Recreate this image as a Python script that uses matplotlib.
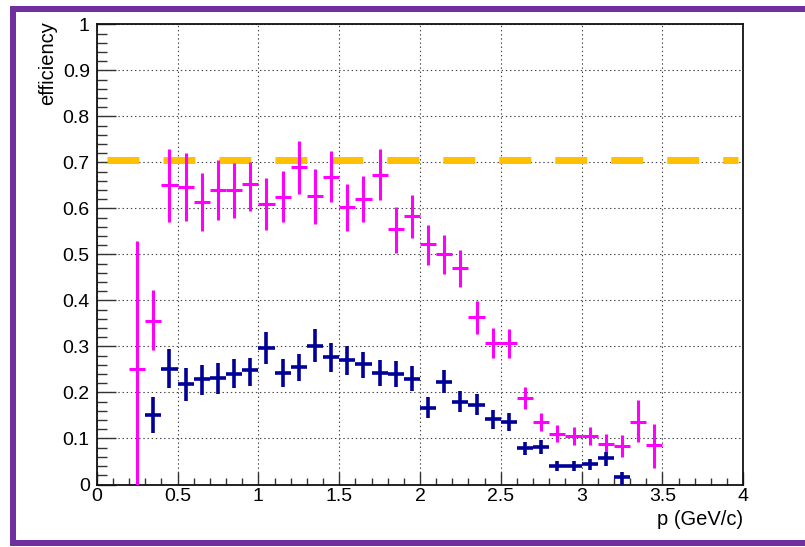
import matplotlib
matplotlib.use("Agg")
import matplotlib.pyplot as plt
import numpy as np
from matplotlib.patches import Rectangle
from matplotlib.ticker import MultipleLocator

# %% Data
# magenta series (bin centres, efficiency, lower / upper error)
p_mag = [0.25, 0.35, 0.45, 0.55, 0.65, 0.75, 0.85, 0.95, 1.05, 1.15, 1.25,
         1.35, 1.45, 1.55, 1.65, 1.75, 1.85, 1.95, 2.05, 2.15, 2.25, 2.35,
         2.45, 2.55, 2.65, 2.75, 2.85, 2.95, 3.05, 3.15, 3.25, 3.35, 3.45]
eff_mag = [0.252, 0.356, 0.651, 0.646, 0.614, 0.640, 0.640, 0.654, 0.609,
           0.624, 0.691, 0.627, 0.668, 0.603, 0.621, 0.673, 0.555, 0.584,
           0.522, 0.501, 0.470, 0.363, 0.308, 0.307, 0.189, 0.136, 0.110,
           0.105, 0.105, 0.089, 0.084, 0.136, 0.085]
lo_mag = [0.252, 0.064, 0.081, 0.073, 0.063, 0.066, 0.061, 0.060, 0.056,
          0.054, 0.060, 0.060, 0.055, 0.052, 0.051, 0.055, 0.051, 0.049,
          0.046, 0.044, 0.041, 0.035, 0.033, 0.032, 0.024, 0.020, 0.018,
          0.019, 0.019, 0.024, 0.025, 0.044, 0.049]
hi_mag = [0.278, 0.067, 0.078, 0.074, 0.063, 0.065, 0.058, 0.046, 0.056,
          0.057, 0.055, 0.058, 0.057, 0.050, 0.049, 0.055, 0.047, 0.046,
          0.042, 0.042, 0.040, 0.035, 0.032, 0.031, 0.023, 0.019, 0.019,
          0.021, 0.021, 0.021, 0.024, 0.047, 0.047]

# navy series
p_blue = [0.35, 0.45, 0.55, 0.65, 0.75, 0.85, 0.95, 1.05, 1.15, 1.25, 1.35,
          1.45, 1.55, 1.65, 1.75, 1.85, 1.95, 2.05, 2.15, 2.25, 2.35, 2.45,
          2.55, 2.65, 2.75, 2.85, 2.95, 3.05, 3.15, 3.25]
eff_blue = [0.152, 0.252, 0.219, 0.229, 0.231, 0.241, 0.248, 0.296, 0.243,
            0.255, 0.302, 0.276, 0.270, 0.261, 0.242, 0.241, 0.230, 0.167,
            0.223, 0.180, 0.173, 0.142, 0.136, 0.079, 0.081, 0.040, 0.041,
            0.045, 0.057, 0.016]
lo_blue = [0.040, 0.043, 0.037, 0.034, 0.034, 0.032, 0.034, 0.035, 0.031,
           0.031, 0.035, 0.031, 0.032, 0.029, 0.028, 0.029, 0.026, 0.023,
           0.025, 0.022, 0.021, 0.021, 0.020, 0.014, 0.015, 0.011, 0.011,
           0.013, 0.017, 0.016]
hi_blue = [0.039, 0.042, 0.035, 0.031, 0.033, 0.032, 0.027, 0.036, 0.030,
           0.029, 0.036, 0.031, 0.030, 0.028, 0.029, 0.027, 0.027, 0.024,
           0.026, 0.023, 0.023, 0.020, 0.019, 0.013, 0.015, 0.011, 0.011,
           0.011, 0.014, 0.011]

bin_half = 0.05
target_eff = 0.705
target_range = [0.064, 3.97]

x_ticks = [0, 0.5, 1, 1.5, 2, 2.5, 3, 3.5, 4]
x_ticklabels = ["0", "0.5", "1", "1.5", "2", "2.5", "3", "3.5", "4"]
y_ticks = [0, 0.1, 0.2, 0.3, 0.4, 0.5, 0.6, 0.7, 0.8, 0.9, 1]
y_ticklabels = ["0", "0.1", "0.2", "0.3", "0.4", "0.5", "0.6", "0.7",
                "0.8", "0.9", "1"]

# %% Plot
plt.rcParams["font.family"] = ["Liberation Sans", "DejaVu Sans"]
plt.rcParams["lines.scale_dashes"] = False

W, H = 805, 547
fig = plt.figure(figsize=(W / 100, H / 100), dpi=100)
ax = fig.add_axes([96.7 / W, 1 - 484.5 / H, (743.3 - 96.7) / W, (484.5 - 24.3) / H])

ax.grid(True, linestyle=(0, (1, 2)), color="#444444", linewidth=0.8)
ax.set_axisbelow(True)

ax.plot(target_range, [target_eff, target_eff], color="#ffc000", linewidth=5,
        dashes=(23, 17.3), solid_capstyle="butt", dash_capstyle="butt", zorder=2)

ax.errorbar(p_mag, eff_mag, yerr=[lo_mag, hi_mag], xerr=bin_half, fmt="none",
            ecolor="#ff00ff", elinewidth=2.2, capsize=0, zorder=3)
ax.errorbar(p_blue, eff_blue, yerr=[lo_blue, hi_blue], xerr=bin_half, fmt="none",
            ecolor="#000099", elinewidth=2.6, capsize=0, zorder=4)

ax.set_xlim(0, 4)
ax.set_ylim(0, 1)
ax.set_xticks(x_ticks)
ax.set_xticklabels(x_ticklabels)
ax.set_yticks(y_ticks)
ax.set_yticklabels(y_ticklabels)
ax.xaxis.set_minor_locator(MultipleLocator(0.1))
ax.yaxis.set_minor_locator(MultipleLocator(0.02))
ax.tick_params(axis="x", which="major", direction="in", length=9.5, width=1,
               color="#333333", labelsize=14, pad=2.5)
ax.tick_params(axis="x", which="minor", direction="in", length=5, width=1,
               color="#333333")
ax.tick_params(axis="y", which="major", direction="in", length=13.5, width=1,
               color="#333333", labelsize=14, pad=5)
ax.tick_params(axis="y", which="minor", direction="in", length=7, width=1,
               color="#333333")
for s in ax.spines.values():
    s.set_linewidth(1.3)
    s.set_color("#111111")

fig.text(48 / W, 1 - 21 / H, "efficiency", rotation=90, ha="center", va="top",
         fontsize=14.5)
fig.text(743 / W, 1 - 529 / H, "p (GeV/c)", ha="right", va="bottom", fontsize=14.5)

# purple frame round the canvas
purple = "#7030a0"
fig.add_artist(Rectangle((10 / W, 1 - 12 / H), 1, 6 / H, transform=fig.transFigure,
                         color=purple, lw=0))
fig.add_artist(Rectangle((10 / W, 1 - 546 / H), 6 / W, 540 / H, transform=fig.transFigure,
                         color=purple, lw=0))
fig.add_artist(Rectangle((10 / W, 1 - 546 / H), 1, 6 / H, transform=fig.transFigure,
                         color=purple, lw=0))

fig.savefig("out.png", dpi=100)
